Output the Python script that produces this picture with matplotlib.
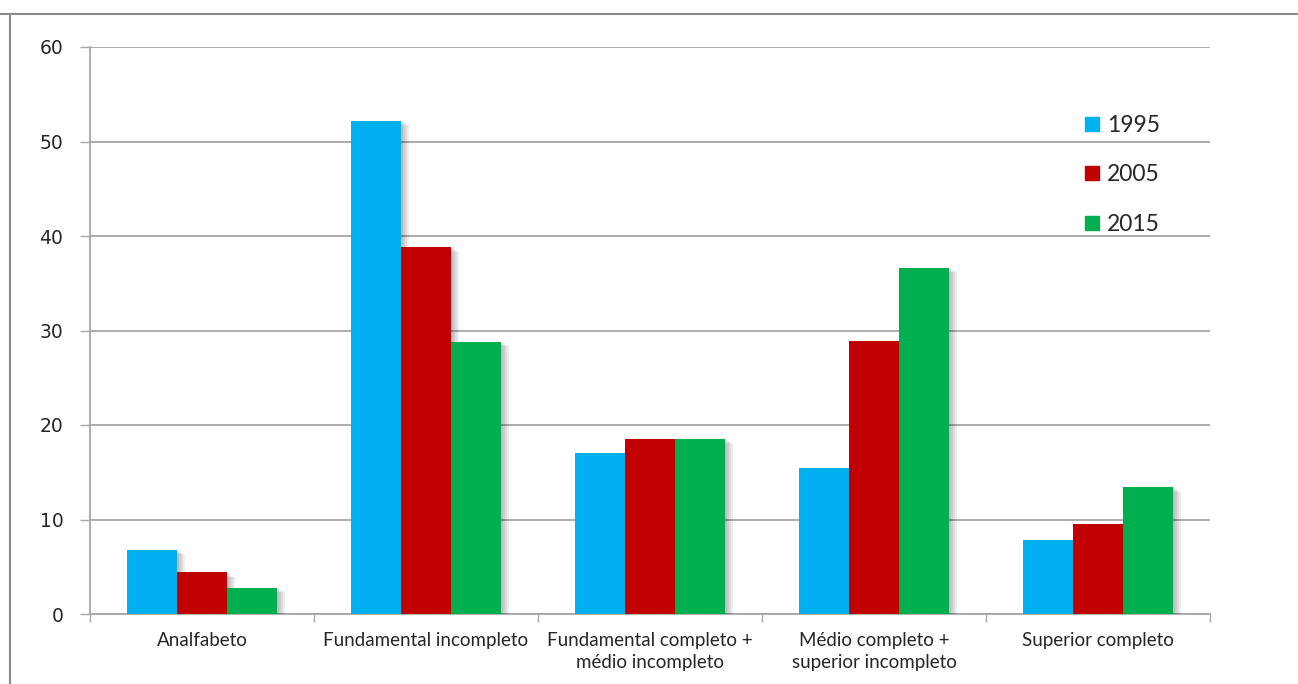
import matplotlib
matplotlib.use("Agg")
import matplotlib.pyplot as plt
import matplotlib.patheffects as pe
from matplotlib.lines import Line2D
import numpy as np

categories = [
    "Analfabeto",
    "Fundamental incompleto",
    "Fundamental completo +\nmédio incompleto",
    "Médio completo +\nsuperior incompleto",
    "Superior completo",
]
years = ["1995", "2005", "2015"]
values_1995 = [6.8, 52.2, 17.0, 15.4, 7.8]
values_2005 = [4.4, 38.8, 18.5, 28.9, 9.5]
values_2015 = [2.8, 28.8, 18.5, 36.6, 13.4]
colors = ["#00B0F0", "#C00000", "#00B050"]
y_ticks = [0, 10, 20, 30, 40, 50, 60]

label_font = ["Lato", "DejaVu Sans"]
grid_color = "#A6A6A6"
text_color = "#262626"

fig = plt.figure(figsize=(12.98, 6.84), dpi=100)
ax = fig.add_axes([90 / 1298, 70 / 684, 1120 / 1298, 567 / 684])

x = np.arange(len(categories))
width = 50 / 224
series = [values_1995, values_2005, values_2015]

# soft drop shadow built from a few faint offset layers
shadow = [pe.SimplePatchShadow(offset=(d, -d / 2), shadow_rgbFace="#000000", alpha=0.07)
          for d in (1.5, 3, 4.5, 6)] + [pe.Normal()]
for i, (vals, col, yr) in enumerate(zip(series, colors, years)):
    bars = ax.bar(x + (i - 1) * width, vals, width=width, color=col, label=yr, zorder=3)
    for b in bars:
        b.set_path_effects(shadow)

ax.set_xlim(-0.5, len(categories) - 0.5)
ax.set_ylim(0, 60)
ax.set_yticks(y_ticks)
ax.set_yticklabels([str(v) for v in y_ticks], fontsize=13.5, color=text_color, family="DejaVu Sans")
ax.tick_params(axis="y", length=7.2, width=1, color=grid_color, pad=12)
ax.yaxis.grid(True, color=grid_color, linewidth=1.3, zorder=0)
ax.set_axisbelow(True)

# category labels centred under groups, tick marks at group boundaries
ax.set_xticks(np.arange(len(categories) + 1) - 0.5)
ax.set_xticklabels([])
ax.tick_params(axis="x", length=6, width=1, color=grid_color, direction="out")
for xi, lab in zip(x, categories):
    ax.text(xi, -1.9, lab, ha="center", va="top", fontsize=13.5, color=text_color,
            family=label_font, linespacing=1.35)

for s in ["top", "right"]:
    ax.spines[s].set_visible(False)
for s in ["left", "bottom"]:
    ax.spines[s].set_color(grid_color)
    ax.spines[s].set_linewidth(1.3)

handles = [Line2D([], [], marker="s", linestyle="none", markersize=10.5,
                  markerfacecolor=c, markeredgecolor=c) for c in colors]
leg = ax.legend(handles, years, loc="upper left",
                bbox_to_anchor=(970 / 1120, (684 - 94 - 70) / 567),
                frameon=False, handletextpad=0.15, labelspacing=1.25, handlelength=1.0,
                prop={"family": label_font, "size": 16.5})
for t in leg.get_texts():
    t.set_color(text_color)

# outer frame lines
fig.add_artist(Line2D([0, 1], [1 - 13.5 / 684] * 2, color="#8C8C8C", linewidth=1.5,
                      transform=fig.transFigure))
fig.add_artist(Line2D([9.5 / 1298] * 2, [0, 1 - 13.5 / 684], color="#8C8C8C", linewidth=1.5,
                      transform=fig.transFigure))

fig.savefig("out.png", dpi=100, facecolor="white")
